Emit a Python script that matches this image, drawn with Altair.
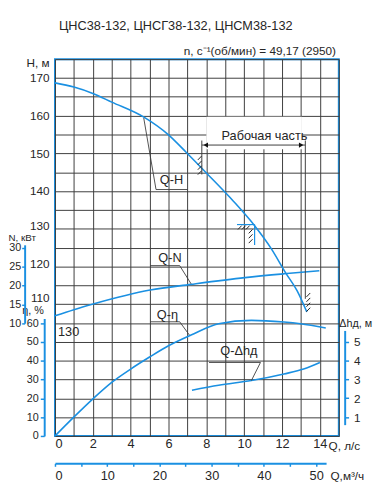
import altair as alt
import pandas as pd

# ---------------- data ----------------
# Q-H  (Q in l/s, H in m)
qh_q = [0, 1, 2, 3, 4.7, 6, 6.93, 8, 9.43, 10.55, 11.42, 12.19, 12.8, 13.31]
qh_h = [168.7, 167.6, 165.9, 163.6, 159.6, 154.9, 150.3, 144.8, 137.3, 130.8, 124.8, 118.3, 113.5, 107.9]
# Q-N  (kW)
qn_q = [0, 1, 2.02, 5.03, 7.19, 10.04, 12.1, 13.97]
qn_n = [11.95, 13.6, 15.1, 18.8, 20.3, 22.1, 23.1, 23.9]
# Q-eta (%)
qe_q = [0, 0.98, 2.02, 3.0, 4.0, 5.0, 6.0, 7.19, 8.65, 10.38, 12.1, 12.97, 14.31]
qe_e = [0, 9.9, 19.9, 28.5, 35.6, 42.0, 48.0, 53.7, 59.7, 61.5, 60.6, 59.7, 57.5]
# Q-dh (m)
qd_q = [7.24, 8.65, 10.38, 12.1, 13.14, 14.0]
qd_d = [2.43, 2.69, 2.94, 3.29, 3.55, 3.9]

# axis tick values
q_ticks = list(range(0, 16))
h_ticks = list(range(75, 176, 5))
eta_ticks = [0, 10, 20, 30, 40, 50, 60]
n_ticks = [10, 15, 20, 25, 30]
dh_ticks = [1, 2, 3, 4, 5]
qm_ticks = list(range(0, 51, 5))

# annotations (in Q l/s, H m)
lab_text = ["Q-H", "Q-N", "Q-η", "Q-Δhд", "130"]
lab_q = [5.54, 5.46, 5.38, 8.74, 0.16]
lab_h = [143.0, 122.2, 107.2, 97.5, 102.5]

lead_g = [0, 0, 0, 1, 1, 1, 2, 2, 2, 3, 3, 3]
lead_o = [0, 1, 2, 0, 1, 2, 0, 1, 2, 0, 1, 2]
lead_q = [4.69, 5.34, 7.02, 5.03, 6.59, 7.19, 5.03, 6.59, 7.10, 8.14, 10.86, 10.38]
lead_h = [159.4, 140.4, 140.4, 120.2, 120.2, 115.4, 105.3, 105.3, 101.8, 94.5, 94.5, 89.7]

work_text = "Рабочая часть"
work_q = [7.76, 13.23]
work_h = 152.2
ext_top = [153.4, 153.4]
ext_bot = [144.4, 111.4]
hatch_q = [7.55, 7.55, 7.55, 7.55, 9.67, 9.88, 10.09, 10.24, 10.24, 10.24, 13.29, 13.29, 13.29, 13.29]
hatch_h = [148.25, 146.95, 145.65, 144.35, 129.8, 129.8, 129.8, 128.77, 127.47, 126.17, 111.9, 110.6, 109.3, 108.0]

title_text = "ЦНС38-132, ЦНСГ38-132, ЦНСМ38-132"
speed_text = "n, c⁻¹(об/мин) = 49,17 (2950)"

BLUE = "#1a90e2"
GRID = "#3c3c3c"
TXT = "#262626"
FONT = "Liberation Sans Narrow, Liberation Sans, Arial, sans-serif"

QSC = alt.Scale(domain=[0, 15], nice=False, zero=False)
HSC = alt.Scale(domain=[75, 175], nice=False, zero=False)


def xq():
    return alt.X("q:Q", scale=QSC, axis=None, title=None)


def yh(field="h:Q"):
    return alt.Y(field, scale=HSC, axis=None, title=None)


# ---------------- main Q-H layer with grid ----------------
df_h = pd.DataFrame({"q": qh_q, "h": qh_h})
qh = alt.Chart(df_h).mark_line(color=BLUE, strokeWidth=1.6, interpolate="monotone").encode(
    x=alt.X("q:Q", scale=QSC, axis=alt.Axis(
        values=q_ticks, grid=True, gridColor=GRID, gridWidth=1, gridOpacity=1,
        domain=False, ticks=False, tickSize=0, labelPadding=2,
        labelExpr="datum.value % 2 == 0 && datum.value <= 14 ? datum.label : ''",
        title="Q, л/с", titleX=279, titleY=10, titleAlign="left", titleBaseline="middle",
        labelFontSize=13, titleFontSize=12)),
    y=alt.Y("h:Q", scale=HSC, axis=alt.Axis(
        values=h_ticks, grid=True, gridColor=GRID, gridWidth=1, gridOpacity=1,
        domain=False, ticks=False, tickSize=0, labelPadding=6,
        labelOffset={"condition": [{"test": "datum.value == 110", "value": -7},
                                   {"test": "datum.value <= 130", "value": -3}],
                     "value": 0},
        labelExpr="datum.value >= 110 && datum.value % 10 == 0 ? datum.label : ''",
        title="H, м", titleX=-6, titleY=4, titleAlign="right", titleBaseline="middle",
        titleFontSize=12, labelFontSize=12)),
)

# ---------------- Q-eta ----------------
df_e = pd.DataFrame({"q": qe_q, "e": qe_e})
qe = alt.Chart(df_e).mark_line(color=BLUE, strokeWidth=1.6, interpolate="monotone").encode(
    x=xq(),
    y=alt.Y("e:Q", scale=alt.Scale(domain=[0, 62.5], range=[385, 265], nice=False, zero=False),
            axis=alt.Axis(orient="left", offset=11, values=eta_ticks, grid=False,
                          domainColor=BLUE, domainWidth=2, tickColor=BLUE, tickWidth=1.5,
                          tickSize=4, labelPadding=2, labelFontSize=11,
                          title="η, %", titleX=-1, titleY=256.5, titleAlign="right",
                          titleBaseline="middle", titleFontSize=11)),
)

# ---------------- Q-N ----------------
df_n = pd.DataFrame({"q": qn_q, "n": qn_n})
qnl = alt.Chart(df_n).mark_line(color=BLUE, strokeWidth=1.6, interpolate="monotone").encode(
    x=xq(),
    y=alt.Y("n:Q", scale=alt.Scale(domain=[10, 30.8], range=[269.8, 189.7], nice=False, zero=False),
            axis=alt.Axis(orient="left", offset=31, values=n_ticks, grid=False,
                          domainColor=BLUE, domainWidth=2, tickColor=BLUE, tickWidth=1.5,
                          tickSize=3, labelPadding=1, labelFontSize=11,
                          title="N, кВт", titleX=-17, titleY=182, titleAlign="left",
                          titleBaseline="middle", titleFontSize=10)),
)

# ---------------- Q-dh ----------------
df_d = pd.DataFrame({"q": qd_q, "d": qd_d})
qd = alt.Chart(df_d).mark_line(color=BLUE, strokeWidth=1.6, interpolate="monotone").encode(
    x=xq(),
    y=alt.Y("d:Q", scale=alt.Scale(domain=[0.6, 5.6], range=[373.45, 277.2], nice=False, zero=False),
            axis=alt.Axis(orient="right", offset=6, values=dh_ticks, grid=False,
                          domainColor=BLUE, domainWidth=2, tickColor=BLUE, tickWidth=1.5,
                          tickSize=4, labelPadding=5, labelFontSize=12,
                          title="Δhд, м", titleX=-6, titleY=270, titleAlign="left",
                          titleBaseline="middle", titleFontSize=11)),
)

# ---------------- second Q axis (m3/h) ----------------
df_m = pd.DataFrame({"qm": qm_ticks})
qm = alt.Chart(df_m).mark_point(opacity=0).encode(
    x=alt.X("qm:Q", scale=alt.Scale(domain=[0, 51.9], range=[0, 277], nice=False, zero=False),
            axis=alt.Axis(orient="bottom", offset=28, values=qm_ticks, grid=False,
                          domainColor=BLUE, domainWidth=2, tickColor=BLUE, tickWidth=1.5,
                          tickSize=3, labelPadding=3, labelFontSize=13,
                          labelExpr="datum.value % 10 == 0 ? datum.label : ''",
                          title="Q,м³/ч", titleX=281, titleY=12, titleAlign="left",
                          titleBaseline="middle", titleFontSize=12)),
    y=alt.value(0),
)

# ---------------- annotations ----------------
df_lead = pd.DataFrame({"q": lead_q, "h": lead_h, "g": lead_g, "o": lead_o})
leads = alt.Chart(df_lead).mark_line(color=GRID, strokeWidth=0.9).encode(
    x=xq(), y=yh(), detail="g:N", order="o:Q")

df_lab = pd.DataFrame({"q": lab_q, "h": lab_h, "t": lab_text})
labels = alt.Chart(df_lab).mark_text(align="left", baseline="middle", font=FONT,
                                     fontSize=13, color=TXT).encode(
    x=xq(), y=yh(), text="t:N")

df_box = pd.DataFrame({"q": [8.0], "q2": [13.05], "h": [159.7], "h2": [151.1]})
box = alt.Chart(df_box).mark_rect(color="white").encode(
    x=xq(), x2="q2:Q", y=yh(), y2="h2:Q")

df_dim = pd.DataFrame({"q": [work_q[0]], "q2": [work_q[1]], "h": [work_h]})
dim = alt.Chart(df_dim).mark_rule(color=GRID, strokeWidth=1).encode(
    x=xq(), x2="q2:Q", y=yh())

df_ext = pd.DataFrame({"q": work_q, "h": ext_top, "h2": ext_bot})
ext = alt.Chart(df_ext).mark_rule(color=GRID, strokeWidth=1).encode(
    x=xq(), y=yh(), y2="h2:Q")

df_arr = pd.DataFrame({"q": [7.97, 13.01], "h": [work_h, work_h],
                       "s": ["triangle-left", "triangle-right"]})
arrows = alt.Chart(df_arr).mark_point(filled=True, color="#111", opacity=1, size=28).encode(
    x=xq(), y=yh(), shape=alt.Shape("s:N", scale=None))

df_wt = pd.DataFrame({"q": [11.07], "h": [154.7], "t": [work_text]})
worktxt = alt.Chart(df_wt).mark_text(align="center", baseline="middle", font=FONT,
                                     fontSize=13, color=TXT).encode(
    x=xq(), y=yh(), text="t:N")

df_hatch = pd.DataFrame({"q": hatch_q, "h": hatch_h,
                         "q2": [v + 0.2 for v in hatch_q], "h2": [v + 1.04 for v in hatch_h]})
hatch = alt.Chart(df_hatch).mark_rule(color="#222", strokeWidth=1).encode(
    x=xq(), y=yh(), x2="q2:Q", y2="h2:Q")

df_corner = pd.DataFrame({"q": [9.62, 10.55], "q2": [10.55, 10.55],
                          "h": [131.1, 131.1], "h2": [131.1, 125.65]})
corner = alt.Chart(df_corner).mark_rule(color=BLUE, strokeWidth=1.2).encode(
    x=xq(), y=yh(), x2="q2:Q", y2="h2:Q")

df_title = pd.DataFrame({"q": [0.21], "h": [183.8], "t": [title_text]})
title = alt.Chart(df_title).mark_text(align="left", baseline="middle", font=FONT,
                                      fontSize=13, color=TXT).encode(
    x=xq(), y=yh(), text="t:N")

df_speed = pd.DataFrame({"q": [14.85], "h": [177.1], "t": [speed_text]})
speed = alt.Chart(df_speed).mark_text(align="right", baseline="middle", font=FONT,
                                      fontSize=12, color=TXT).encode(
    x=xq(), y=yh(), text="t:N")

chart = alt.layer(
    qh, qe, qnl, qd, qm, box, leads, labels, dim, ext, arrows, worktxt, hatch, corner, title, speed
).resolve_scale(x="independent", y="independent").properties(
    width=290, height=385,
    padding={"left": 48, "top": 47, "right": 38, "bottom": 52},
    autosize=alt.AutoSizeParams(type="none"),
).configure_view(
    stroke=BLUE, strokeWidth=2
).configure_axis(
    labelFont=FONT, titleFont=FONT, labelColor=TXT, titleColor=TXT,
    titleFontWeight="normal", titleAngle=0,
)

chart.save("out.html", embed_options={"renderer": "svg", "actions": False})
